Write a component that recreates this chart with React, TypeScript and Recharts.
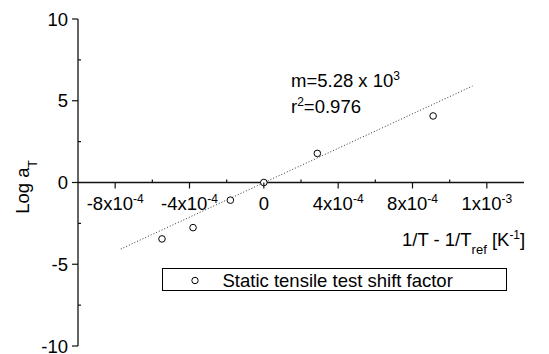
import React from 'react';
import { ScatterChart, Scatter, XAxis, YAxis, ReferenceLine, Legend } from 'recharts';

// ---- data ----
const pointX = [-5.48e-4, -3.81e-4, -1.8e-4, 0, 2.88e-4, 9.11e-4];
const pointY = [-3.45, -2.76, -1.08, 0, 1.78, 4.07];
const fitX = [-7.7e-4, 1.123e-3];
const fitY = [-4.07, 5.9];

const xMajorTicks = [-8e-4, -4e-4, 0, 4e-4, 8e-4, 1.2e-3];
const xMajorBase = ['-8x10', '-4x10', '0', '4x10', '8x10', '1x10'];
const xMajorExp = ['-4', '-4', '', '-4', '-4', '-3'];
const xMinorTicks = [-6e-4, -2e-4, 2e-4, 6e-4, 1e-3];
const yMajorTicks = [-10, -5, 0, 5, 10];
const yMinorTicks = [-7.5, -2.5, 2.5, 7.5];

const seriesName = 'Static tensile test shift factor';
const slopeText = 'm=5.28 x 10';
const slopeExp = '3';
const r2Prefix = 'r';
const r2Exp = '2';
const r2Text = '=0.976';

const X_DOMAIN: [number, number] = [-1e-3, 1.4e-3];
const Y_DOMAIN: [number, number] = [-10, 10];

// ---- layout ----
const W = 549;
const H = 354;
const M = { top: 19, right: 25, bottom: 0, left: 0 };
const X_AXIS_H = 8;
const Y_AXIS_W = 78;
const PLOT_H = H - M.top - M.bottom - X_AXIS_H;
const ZERO_FROM_BOTTOM = (PLOT_H * (0 - Y_DOMAIN[0])) / (Y_DOMAIN[1] - Y_DOMAIN[0]);
const FONT = '"Liberation Sans", Arial, sans-serif';
const FS = 18.5;
const INK = '#111';

const points = pointX.map((x, i) => ({ x, y: pointY[i] }));
const fit = fitX.map((x, i) => ({ x, y: fitY[i] }));

const near = (a: number, b: number) => Math.abs(a - b) < 1e-9;

const XTick = (props: any) => {
  const { x, y, payload } = props;
  const y0 = y - ZERO_FROM_BOTTOM;
  const idx = xMajorTicks.findIndex((t) => near(t, payload.value));
  if (idx < 0) {
    return <line x1={x} x2={x} y1={y0} y2={y0 - 3} stroke={INK} strokeWidth={1.2} />;
  }
  return (
    <g>
      <line x1={x} x2={x} y1={y0} y2={y0 + 6} stroke={INK} strokeWidth={1.2} />
      <text x={x} y={y0 + 27} textAnchor="middle" fontFamily={FONT} fontSize={FS} fill="#000">
        <tspan>{xMajorBase[idx]}</tspan>
        {xMajorExp[idx] ? (
          <tspan dy={-7} fontSize={12}>
            {xMajorExp[idx]}
          </tspan>
        ) : null}
      </text>
    </g>
  );
};

const YTick = (props: any) => {
  const { x, y, payload } = props;
  const isMajor = yMajorTicks.some((t) => near(t, payload.value));
  if (!isMajor) {
    return <line x1={x} x2={x + 3} y1={y} y2={y} stroke={INK} strokeWidth={1.2} />;
  }
  return (
    <g>
      <line x1={x - 6} x2={x} y1={y} y2={y} stroke={INK} strokeWidth={1.2} />
      <text x={x - 10} y={y} dy="0.36em" textAnchor="end" fontFamily={FONT} fontSize={FS} fill="#000">
        {String(payload.value)}
      </text>
    </g>
  );
};

const PointShape = (props: any) => (
  <circle cx={props.cx} cy={props.cy} r={3.3} fill="#fff" stroke="#000" strokeWidth={1} />
);

const NoShape = () => <g />;

const LegendBox = () => (
  <svg width={346} height={24} style={{ display: 'block' }}>
    <rect x={0.5} y={0.5} width={344} height={22} fill="#fff" stroke="#000" strokeWidth={1} />
    <circle cx={33} cy={12.5} r={3.2} fill="#fff" stroke="#000" strokeWidth={1} />
    <text x={60.5} y={19} fontFamily={FONT} fontSize={FS} fill="#000">
      {seriesName}
    </text>
  </svg>
);

export default function App() {
  return (
    <div style={{ position: 'absolute', left: 0, top: 0, width: W, height: H, background: '#fff' }}>
      <ScatterChart width={W} height={H} margin={M}>
        <XAxis
          type="number"
          dataKey="x"
          domain={X_DOMAIN}
          ticks={[...xMajorTicks, ...xMinorTicks]}
          interval={0}
          tickSize={0}
          tickMargin={0}
          axisLine={false}
          tick={XTick}
          height={X_AXIS_H}
          allowDataOverflow
        />
        <YAxis
          type="number"
          dataKey="y"
          domain={Y_DOMAIN}
          ticks={[...yMajorTicks, ...yMinorTicks]}
          interval={0}
          tickSize={0}
          tickMargin={0}
          width={Y_AXIS_W}
          axisLine={{ stroke: INK, strokeWidth: 1.3 }}
          tick={YTick}
          allowDataOverflow
        />
        <ReferenceLine y={0} stroke={INK} strokeWidth={1.3} />
        <Scatter
          name="fit"
          data={fit}
          line={{ stroke: '#333', strokeWidth: 1, strokeDasharray: '1 2' }}
          shape={NoShape}
          legendType="none"
          isAnimationActive={false}
        />
        <Scatter name={seriesName} data={points} shape={PointShape} isAnimationActive={false} />
        <Legend
          layout="horizontal"
          verticalAlign="middle"
          align="center"
          content={LegendBox}
          wrapperStyle={{ position: 'absolute', left: 162, top: 268, width: 346, height: 24 }}
        />
        <text transform="translate(29,187) rotate(-90)" textAnchor="middle" fontFamily={FONT} fontSize={FS} fill="#000">
          <tspan>Log a</tspan>
          <tspan dy={8} fontSize={12}>T</tspan>
        </text>
        <text x={402} y={245.7} fontFamily={FONT} fontSize={FS} fill="#000">
          <tspan>1/T - 1/T</tspan>
          <tspan dy={8} fontSize={13}>ref</tspan>
          <tspan dy={-8}> [K</tspan>
          <tspan dy={-7} fontSize={12}>-1</tspan>
          <tspan dy={7}>]</tspan>
        </text>
        <text x={291} y={87.3} fontFamily={FONT} fontSize={FS} fill="#000">
          <tspan>{slopeText}</tspan>
          <tspan dy={-7} fontSize={12}>{slopeExp}</tspan>
        </text>
        <text x={291} y={113} fontFamily={FONT} fontSize={FS} fill="#000">
          <tspan>{r2Prefix}</tspan>
          <tspan dy={-7} fontSize={12}>{r2Exp}</tspan>
          <tspan dy={7}>{r2Text}</tspan>
        </text>
      </ScatterChart>
    </div>
  );
}
